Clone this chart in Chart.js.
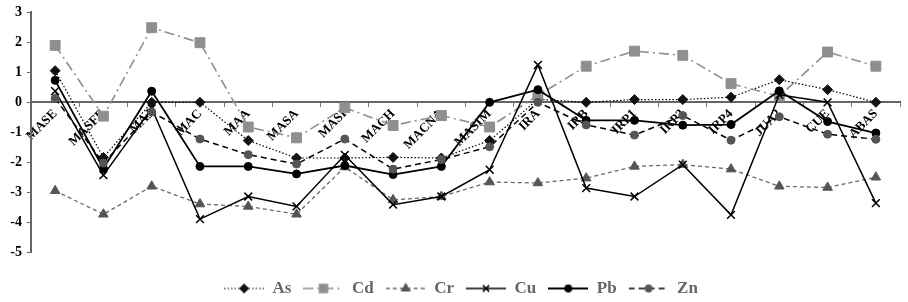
<!DOCTYPE html>
<html>
<head>
<meta charset="utf-8">
<script src="https://cdn.jsdelivr.net/npm/chart.js@4"></script>
<style>
html,body{margin:0;padding:0;background:#fff;}
#wrap{width:908px;height:302px;position:relative;}
</style>
</head>
<body>
<div id="wrap"><canvas id="c" width="908" height="302"></canvas></div>
<script>
const categories = ['MASE','MASFE','MAJ','MAC','MAA','MASA','MASI','MACH','MACNA','MASIM','IRA','IRB','IRP1','IRP2','IRP4','JUA2','CUE','ABAS'];
const seriesNames = ['As','Cd','Cr','Cu','Pb','Zn'];
const asVals = [1.05,-1.83,0.0,0.0,-1.27,-1.85,-1.85,-1.83,-1.85,-1.27,0.1,0.0,0.09,0.09,0.17,0.75,0.42,0.0];
const cdVals = [1.89,-0.46,2.48,1.98,-0.82,-1.18,-0.18,-0.77,-0.44,-0.82,0.23,1.2,1.7,1.56,0.62,0.2,1.67,1.2];
const crVals = [-2.94,-3.72,-2.79,-3.38,-3.46,-3.72,-2.15,-3.24,-3.13,-2.65,-2.68,-2.52,-2.13,-2.07,-2.22,-2.79,-2.83,-2.49];
const cuVals = [0.37,-2.42,-0.2,-3.88,-3.13,-3.46,-1.75,-3.4,-3.13,-2.24,1.24,-2.85,-3.13,-2.07,-3.74,0.25,0.0,-3.35];
const pbVals = [0.73,-2.2,0.37,-2.13,-2.13,-2.38,-2.1,-2.4,-2.13,0.0,0.42,-0.6,-0.6,-0.76,-0.74,0.38,-0.64,-1.02];
const znVals = [0.13,-2.02,-0.32,-1.22,-1.74,-2.05,-1.22,-2.22,-1.9,-1.48,0.0,-0.75,-1.09,-0.44,-1.26,-0.48,-1.06,-1.23];
const yMin = -5, yMax = 3;

const styles = [
  {data: asVals, line:'#000', dash:[1.5,2], bw:1.2, pt:'rectRot', r:5, fill:'#111', pb:'#111'},
  {data: cdVals, line:'#8f8f8f', dash:[10,4,2,4], bw:1.6, pt:'rect', r:7, fill:'#8f8f8f', pb:'#8f8f8f'},
  {data: crVals, line:'#6a6a6a', dash:[4,3], bw:1.3, pt:'triangle', r:5.5, fill:'#555', pb:'#555'},
  {data: cuVals, line:'#000', dash:[], bw:1.5, pt:'crossRot', r:5.5, fill:'#000', pb:'#000'},
  {data: pbVals, line:'#000', dash:[], bw:1.8, pt:'circle', r:4, fill:'#000', pb:'#000'},
  {data: znVals, line:'#000', dash:[6,4], bw:1.5, pt:'circle', r:4, fill:'#555', pb:'#555'}
];

const SAMPLE_W = 40;
function legendImage(s){
  const cv = document.createElement('canvas');
  cv.width = SAMPLE_W; cv.height = 14;
  const ctx = cv.getContext('2d');
  ctx.strokeStyle = s.line; ctx.lineWidth = s.bw; ctx.setLineDash(s.dash);
  ctx.beginPath(); ctx.moveTo(0,7); ctx.lineTo(SAMPLE_W,7); ctx.stroke();
  ctx.setLineDash([]);
  ctx.fillStyle = s.fill; ctx.strokeStyle = s.pb; ctx.lineWidth = 1.5;
  Chart.helpers.drawPoint(ctx, {pointStyle:s.pt, radius:s.r*0.8, borderWidth:1.5, rotation:0}, SAMPLE_W/2, 7);
  return cv;
}

const datasets = styles.map((s,i)=>({
  label: seriesNames[i],
  data: s.data,
  borderColor: s.line,
  borderWidth: s.bw,
  borderDash: s.dash,
  backgroundColor: s.fill,
  pointStyle: s.pt,
  pointRadius: s.r,
  pointBackgroundColor: s.fill,
  pointBorderColor: s.pb,
  pointBorderWidth: s.pt==='crossRot'?1.5:1,
  tension: 0,
  fill: false,
  order: 6 - i
}));

const shiftLegend = {
  id: 'shiftLegend',
  afterLayout(chart){ const l = chart.legend; if (l){ l.left += 9; l.right += 9; } }
};

const serif = '"Liberation Serif", "Times New Roman", serif';
const legendImgs = styles.map(legendImage);
const chart = new Chart(document.getElementById('c'), {
  type: 'line',
  data: {labels: categories, datasets: datasets},
  plugins: [shiftLegend],
  options: {
    responsive: false,
    animation: false,
    layout: {padding: {left: 0, right: 4, top: 3, bottom: -5}},
    plugins: {
      tooltip: {enabled: false},
      legend: {
        position: 'bottom',
        title: {display: true, text: '', font: {size: 1}, padding: {top: 14, bottom: 0}},
        labels: {
          usePointStyle: true,
          pointStyleWidth: SAMPLE_W,
          boxHeight: 14,
          padding: 12,
          color: '#000',
          font: {family: serif, size: 17, weight: 'bold'},
          generateLabels: (ch) => ch.data.datasets.map((d,i)=>({
            text: d.label,
            pointStyle: legendImgs[i],
            fillStyle: d.backgroundColor,
            strokeStyle: d.borderColor,
            lineWidth: 0,
            hidden: false,
            datasetIndex: i,
            rotation: 0
          }))
        }
      }
    },
    scales: {
      x: {
        type: 'category',
        offset: true,
        position: {y: 0},
        ticks: {
          autoSkip: false, minRotation: 45, maxRotation: 45, padding: 0,
          color: '#000',
          font: {family: serif, size: 13, weight: 'bold'}
        },
        grid: {display: true, drawOnChartArea: false, drawTicks: true, tickLength: 4, color: '#777', offset: true},
        border: {color: '#666', width: 2}
      },
      y: {
        min: yMin, max: yMax,
        ticks: {stepSize: 1, padding: 5, color: '#000',
          font: {family: serif, size: 14, weight: 'bold', lineHeight: 1}},
        grid: {display: true, drawOnChartArea: false, drawTicks: true, tickLength: 4, color: '#666'},
        border: {color: '#666', width: 2},
        afterFit: (s) => { s.width = 31; }
      }
    }
  }
});
</script>
</body>
</html>
